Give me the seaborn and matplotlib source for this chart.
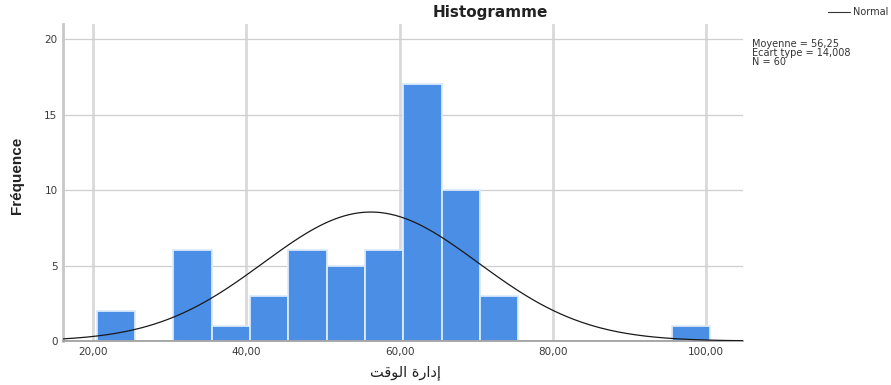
import numpy as np
import pandas as pd
import seaborn as sns
import matplotlib
matplotlib.use("Agg")
import matplotlib.pyplot as plt

# Frequency table: bins of width 5 starting at 20.5
bin_edges = [20.5, 25.5, 30.5, 35.5, 40.5, 45.5, 50.5, 55.5, 60.5, 65.5,
             70.5, 75.5, 80.5, 85.5, 90.5, 95.5, 100.5]
counts = [2, 0, 6, 1, 3, 6, 5, 6, 17, 10, 3, 0, 0, 0, 0, 1]

mean_val = 56.25
std_val = 14.008
n_obs = 60

x_ticks = [20, 40, 60, 80, 100]
x_tick_labels = ["20,00", "40,00", "60,00", "80,00", "100,00"]
y_ticks = [0, 5, 10, 15, 20]

stats_lines = ["Moyenne = 56,25", "Ecart type = 14,008", "N = 60"]

# Arabic axis label, pre-shaped (presentation forms, visual order)
x_label = "\uFE96\uFED7\uFEEE\uFEDF\uFE8D \uFE93\uFEAD\uFE8D\uFEA9\uFE87"

sns.set_theme(style="white")
plt.rcParams["font.family"] = ["DejaVu Sans"]

fig = plt.figure(figsize=(8.91, 3.85), dpi=100)
ax = fig.add_axes([63 / 891, 1 - 341 / 385, (743 - 63) / 891, (341 - 24) / 385])

centers = [(a + b) / 2 for a, b in zip(bin_edges[:-1], bin_edges[1:])]
df = pd.DataFrame({"val": centers, "w": counts})

# grid first so bars sit above
for xv in x_ticks:
    ax.axvline(xv, color="#d9d9d9", lw=2.0, zorder=0)
for yv in y_ticks[1:]:
    ax.axhline(yv, color="#cfcfcf", lw=0.9, zorder=0)

sns.histplot(data=df, x="val", weights="w", bins=bin_edges, ax=ax,
             color="#4a8ee6", alpha=1.0, edgecolor="#dceafb", linewidth=1.3,
             zorder=2)

# fitted normal curve scaled to counts
xlim = (16.1, 104.8)
bw = bin_edges[1] - bin_edges[0]
xs = np.linspace(xlim[0], xlim[1], 400)
ys = n_obs * bw / (std_val * np.sqrt(2 * np.pi)) * np.exp(-0.5 * ((xs - mean_val) / std_val) ** 2)
sns.lineplot(x=xs, y=ys, ax=ax, color="#1a1a1a", lw=0.9, zorder=3)

ax.set_xlim(*xlim)
ax.set_ylim(0, 21.0)
ax.set_xticks(x_ticks)
ax.set_xticklabels(x_tick_labels)
ax.set_yticks(y_ticks)
ax.tick_params(axis="both", labelsize=7.5, colors="#3a3a3a", length=0, pad=4)
ax.set_xlabel("")
ax.set_ylabel("")

for s in ["top", "right"]:
    ax.spines[s].set_visible(False)
ax.spines["left"].set_color("#c8c8c8")
ax.spines["left"].set_linewidth(2.0)
ax.spines["bottom"].set_color("#9a9a9a")
ax.spines["bottom"].set_linewidth(1.2)

fig.text(490 / 891, 1 - 13 / 385, "Histogramme", ha="center", va="center",
         fontsize=11, fontweight="bold", color="#222222")
fig.text(17 / 891, 1 - 175 / 385, "Fréquence", ha="center", va="center",
         rotation=90, fontsize=11, fontweight="bold", color="#222222",
         family=["Liberation Sans", "DejaVu Sans"])
fig.text(405 / 891, 1 - 372 / 385, x_label, ha="center", va="center",
         fontsize=10.5, color="#222222")

for i, line in enumerate(stats_lines):
    fig.text(752 / 891, 1 - (44 + 9 * i) / 385, line, ha="left", va="center",
             fontsize=7, color="#333333")

# legend entry for the normal curve
fig.lines.append(plt.Line2D([828 / 891, 850 / 891], [1 - 12 / 385, 1 - 12 / 385],
                            transform=fig.transFigure, color="#333333", lw=0.8))
fig.text(853 / 891, 1 - 12 / 385, "Normal", ha="left", va="center",
         fontsize=7, color="#333333")

fig.savefig("out.png", dpi=100)
